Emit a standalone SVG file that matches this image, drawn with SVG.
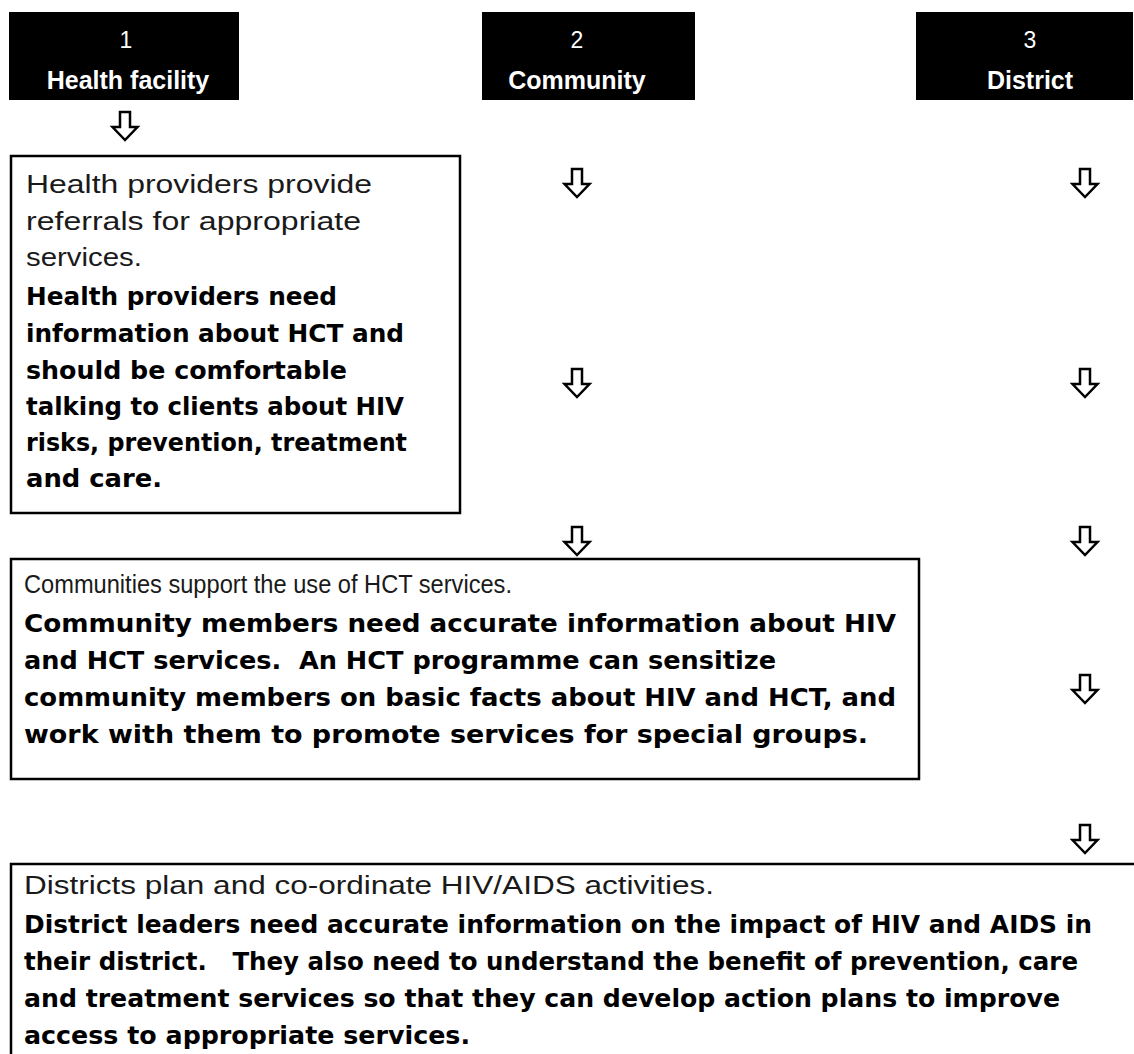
<svg xmlns="http://www.w3.org/2000/svg" width="1134" height="1054" viewBox="0 0 1134 1054">
  <style>
    .hdr { fill: #000; }
    .num { font-family: "Liberation Sans", Arial, sans-serif; font-size: 23px; fill: #fff; text-anchor: middle; }
    .ttl { font-family: "Liberation Sans", Arial, sans-serif; font-size: 25px; font-weight: bold; fill: #fff; text-anchor: middle; }
    .box { fill: #fff; stroke: #000; stroke-width: 2.5; }
    .lead { font-family: "Liberation Sans", Arial, sans-serif; font-size: 25px; fill: #1a1a1a; }
    .body { font-family: "DejaVu Sans", "Liberation Sans", sans-serif; font-size: 24px; font-weight: bold; fill: #000; }
    .arr { fill: #fff; stroke: #000; stroke-width: 2.5; stroke-linejoin: miter; }
  </style>
  <defs>
    <!-- hollow down arrow, origin at top centre -->
    <path id="down" class="arr" d="M-5,0 H5 V15 H12.5 L0,28 L-12.5,15 H-5 Z"/>
  </defs>
  <rect width="1134" height="1054" fill="#fff"/>

  <!-- column headers -->
  <g id="header-health-facility">
    <rect class="hdr" x="9" y="12" width="230" height="88"/>
    <text class="num" x="126" y="48">1</text>
    <text class="ttl" x="128" y="89">Health facility</text>
  </g>
  <g id="header-community">
    <rect class="hdr" x="482" y="12" width="213" height="88"/>
    <text class="num" x="577" y="48">2</text>
    <text class="ttl" x="577" y="89">Community</text>
  </g>
  <g id="header-district">
    <rect class="hdr" x="916" y="12" width="217" height="88"/>
    <text class="num" x="1030" y="48">3</text>
    <text class="ttl" x="1030" y="89">District</text>
  </g>

  <!-- flow arrows -->
  <g id="connectors">
    <use href="#down" x="125" y="112"/>
    <use href="#down" x="577" y="169"/>
    <use href="#down" x="577" y="369"/>
    <use href="#down" x="577" y="527"/>
    <use href="#down" x="1085" y="169"/>
    <use href="#down" x="1085" y="369"/>
    <use href="#down" x="1085" y="527"/>
    <use href="#down" x="1085" y="675"/>
    <use href="#down" x="1085" y="825"/>
  </g>

  <g id="health-facility-box">
    <rect class="box" x="11" y="156" width="449" height="357"/>
    <text class="lead" x="26" y="193" textLength="346" lengthAdjust="spacingAndGlyphs">Health providers provide</text>
    <text class="lead" x="26" y="230" textLength="335" lengthAdjust="spacingAndGlyphs">referrals for appropriate</text>
    <text class="lead" x="26" y="266" textLength="116" lengthAdjust="spacingAndGlyphs">services.</text>
    <text class="body" x="26" y="305" textLength="311" lengthAdjust="spacingAndGlyphs">Health providers need</text>
    <text class="body" x="26" y="342" textLength="378" lengthAdjust="spacingAndGlyphs">information about HCT and</text>
    <text class="body" x="26" y="379" textLength="321" lengthAdjust="spacingAndGlyphs">should be comfortable</text>
    <text class="body" x="26" y="415" textLength="378" lengthAdjust="spacingAndGlyphs">talking to clients about HIV</text>
    <text class="body" x="26" y="451" textLength="381" lengthAdjust="spacingAndGlyphs">risks, prevention, treatment</text>
    <text class="body" x="26" y="487" textLength="136" lengthAdjust="spacingAndGlyphs">and care.</text>
  </g>

  <g id="community-box">
    <rect class="box" x="11" y="559" width="908" height="220"/>
    <text class="lead" x="24" y="593" textLength="488" lengthAdjust="spacingAndGlyphs">Communities support the use of HCT services.</text>
    <text class="body" x="24" y="632" textLength="872" lengthAdjust="spacingAndGlyphs">Community members need accurate information about HIV</text>
    <text class="body" x="24" y="669" textLength="752" lengthAdjust="spacingAndGlyphs" xml:space="preserve">and HCT services.  An HCT programme can sensitize</text>
    <text class="body" x="24" y="706" textLength="872" lengthAdjust="spacingAndGlyphs">community members on basic facts about HIV and HCT, and</text>
    <text class="body" x="24" y="743" textLength="844" lengthAdjust="spacingAndGlyphs">work with them to promote services for special groups.</text>
  </g>

  <g id="district-box">
    <rect class="box" x="11" y="864" width="1130" height="200"/>
    <text class="lead" x="24" y="894" textLength="690" lengthAdjust="spacingAndGlyphs">Districts plan and co-ordinate HIV/AIDS activities.</text>
    <text class="body" x="24" y="933" textLength="1068" lengthAdjust="spacingAndGlyphs">District leaders need accurate information on the impact of HIV and AIDS in</text>
    <text class="body" x="24" y="970" textLength="1054" lengthAdjust="spacingAndGlyphs" xml:space="preserve">their district.   They also need to understand the benefit of prevention, care</text>
    <text class="body" x="24" y="1007" textLength="1036" lengthAdjust="spacingAndGlyphs">and treatment services so that they can develop action plans to improve</text>
    <text class="body" x="24" y="1044" textLength="446" lengthAdjust="spacingAndGlyphs">access to appropriate services.</text>
  </g>
</svg>
